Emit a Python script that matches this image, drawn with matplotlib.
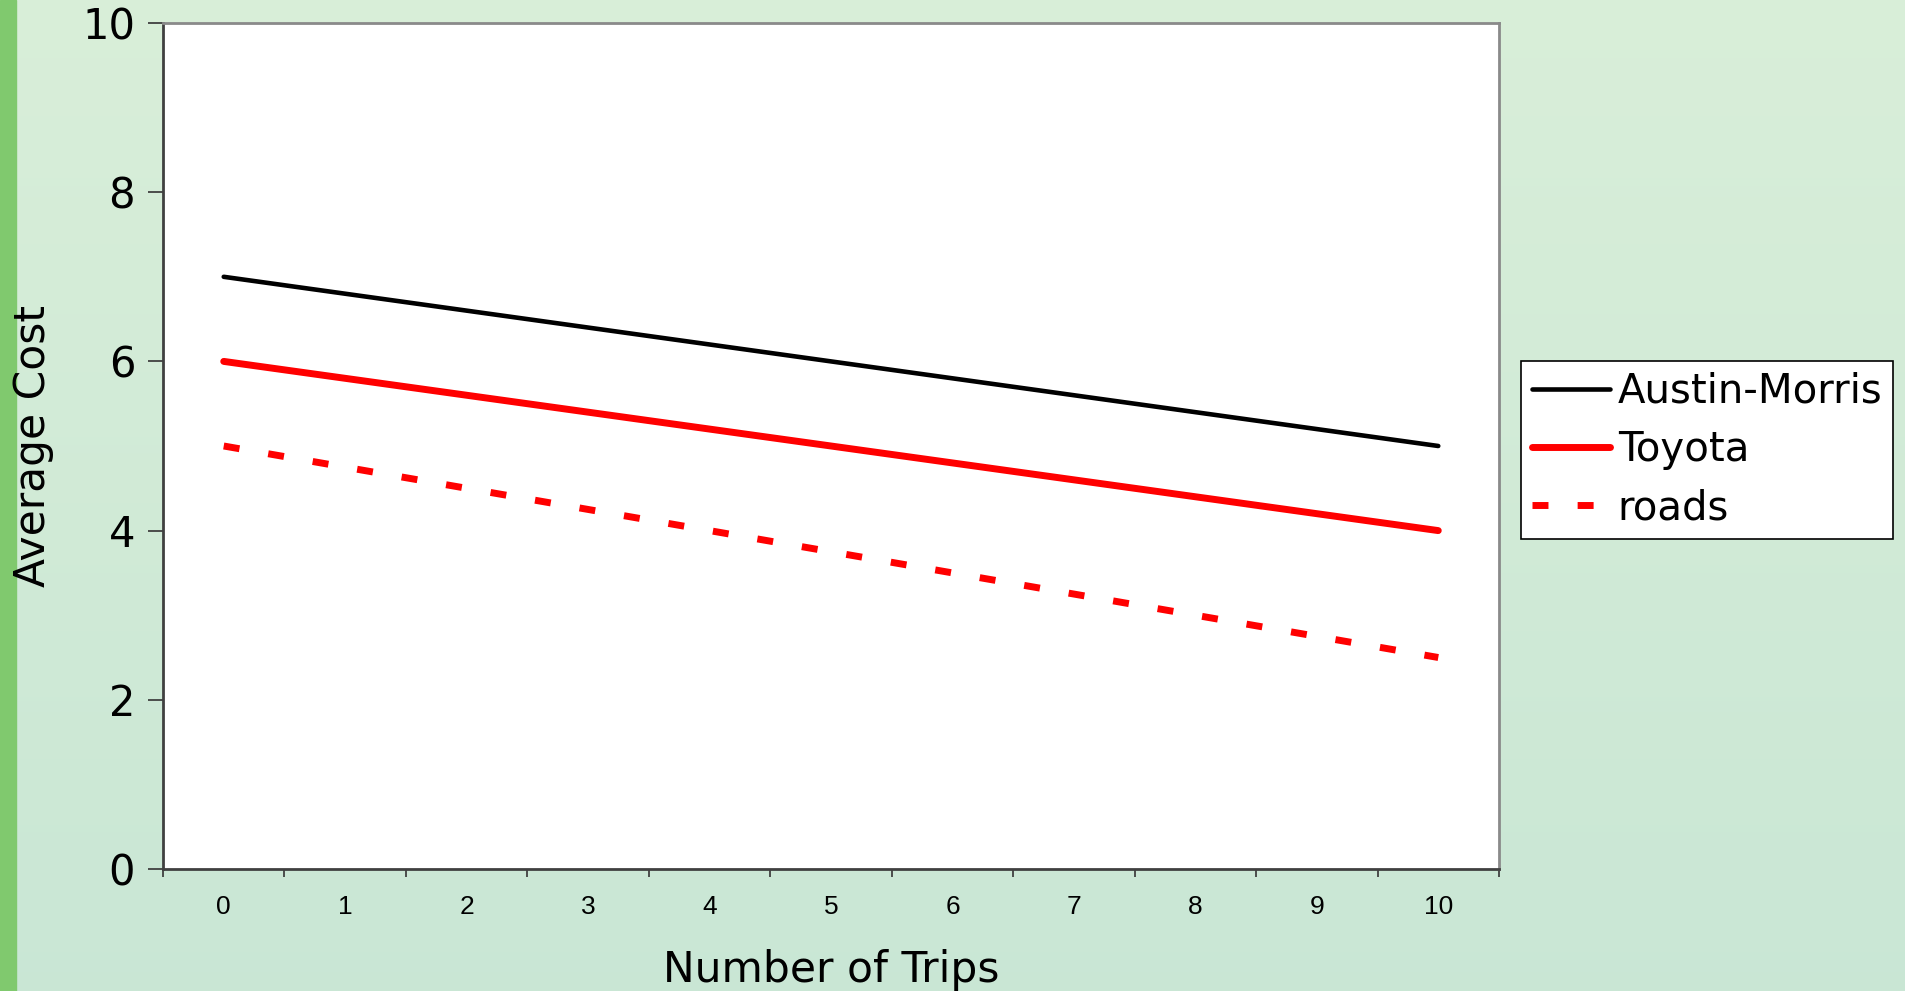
import numpy as np
import matplotlib
matplotlib.use("Agg")
import matplotlib.pyplot as plt
from matplotlib.patches import Rectangle

# ---- data ----
trips = [0, 1, 2, 3, 4, 5, 6, 7, 8, 9, 10]
austin_morris = [7.0, 6.8, 6.6, 6.4, 6.2, 6.0, 5.8, 5.6, 5.4, 5.2, 5.0]
toyota = [6.0, 5.8, 5.6, 5.4, 5.2, 5.0, 4.8, 4.6, 4.4, 4.2, 4.0]
roads = [5.0, 4.75, 4.5, 4.25, 4.0, 3.75, 3.5, 3.25, 3.0, 2.75, 2.5]
y_ticks = [0, 2, 4, 6, 8, 10]

W, H, DPI = 1906, 991, 100
fig = plt.figure(figsize=(W / DPI, H / DPI), dpi=DPI)

# background gradient
bg = fig.add_axes([0, 0, 1, 1], zorder=-10)
top = np.array([0.85, 0.935, 0.85])
bot = np.array([0.79, 0.905, 0.835])
t = np.linspace(0, 1, 256)[:, None, None]
grad = top * (1 - t) + bot * t
grad = np.repeat(grad, 4, axis=1)
bg.imshow(grad, aspect="auto", extent=[0, 1, 0, 1], origin="upper")
bg.add_patch(Rectangle((0, 0), 16 / W, 1, color="#80c96e", transform=bg.transAxes))
bg.set_axis_off()

ax = fig.add_axes([163 / W, (H - 869) / H, (1499 - 163) / W, (869 - 23) / H])
ax.set_facecolor("white")

ax.plot(trips, austin_morris, color="black", lw=3.3, solid_capstyle="round", label="Austin-Morris")
ax.plot(trips, toyota, color="#ff0000", lw=5.0, solid_capstyle="round", label="Toyota")
ax.plot(trips, roads, color="#ff0000", lw=5.0, dashes=(2.3, 4.2), dash_capstyle="butt", label="roads")

ax.set_xlim(-0.5, 10.5)
ax.set_ylim(0, 10)
ax.set_yticks(y_ticks)
ax.set_yticklabels([str(v) for v in y_ticks], fontsize=30, family="DejaVu Sans")
ax.set_xticks(np.arange(-0.5, 11, 1))
ax.set_xticklabels([])
ax.set_xticks(trips, minor=True)
ax.set_xticklabels([str(v) for v in trips], minor=True, fontsize=19, family="Liberation Sans")
ax.tick_params(axis="x", which="major", length=6, width=1.3, color="#404040", direction="out")
ax.tick_params(axis="x", which="minor", length=0, pad=19)
ax.tick_params(axis="y", length=11, width=1.3, color="#404040", direction="out", pad=9)

for s in ax.spines.values():
    s.set_color("#8a8a8a")
    s.set_linewidth(2)
ax.spines["left"].set_color("#404040")
ax.spines["bottom"].set_color("#404040")

ax.set_xlabel("Number of Trips", fontsize=30.5, family="DejaVu Sans", labelpad=21)
ax.set_ylabel("Average Cost", fontsize=30.5, family="DejaVu Sans", labelpad=20)

leg = ax.legend(loc="upper left", bbox_to_anchor=(1521 / W, 1 - 361 / H), bbox_transform=fig.transFigure,
                prop={"family": "DejaVu Sans", "size": 29},
                frameon=True, fancybox=False, edgecolor="black", framealpha=1,
                handlelength=1.95, handletextpad=0.18, labelspacing=0.45, borderpad=0.27,
                borderaxespad=0)
leg.get_frame().set_linewidth(1.2)

fig.savefig("out.png", dpi=DPI)
